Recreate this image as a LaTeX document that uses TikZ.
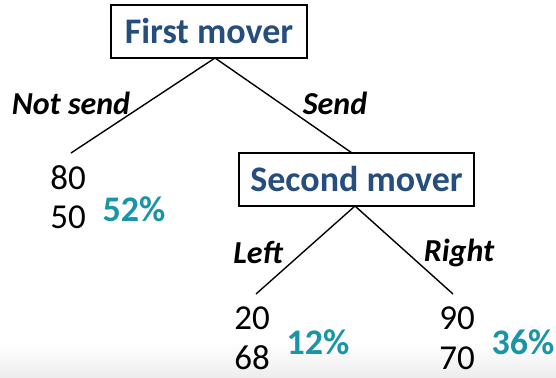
\documentclass[tikz,border=0pt]{standalone}
\usepackage{fontspec}
\setmainfont{Carlito}
\definecolor{titleblue}{HTML}{254E7E}
\definecolor{pct}{HTML}{1A95A8}
\begin{document}
\begin{tikzpicture}[x=1pt,y=-1pt,
  mover/.style={draw,line width=1.6pt,fill=white,text=titleblue,font=\fontsize{36}{40}\selectfont\bfseries,inner sep=0pt,minimum height=53pt},
  choice/.style={font=\fontsize{32}{34}\selectfont\bfseries\itshape},
  payoff/.style={font=\fontsize{35}{40}\selectfont,inner sep=0pt},
  share/.style={text=pct,font=\fontsize{36}{40}\selectfont\bfseries,inner sep=0pt},
  branch/.style={line width=1.4pt}]
\useasboundingbox (0,0) rectangle (556,377);
\shade[top color=white,bottom color=black!7] (0,343) rectangle (556,377);
\node[mover,minimum width=196pt] (fm) at (209,31.5) {First mover};
\node[mover,minimum width=235pt] (sm) at (356.5,179.5) {Second mover};
\coordinate (fmb) at (215,58);
\coordinate (l1) at (71,153);
\coordinate (smt) at (352,153);
\coordinate (smb) at (355,206);
\coordinate (l2) at (256,294);
\coordinate (l3) at (453,294);
\draw[branch] (fmb) -- (l1);
\draw[branch] (fmb) -- (smt);
\draw[branch] (smb) -- (l2);
\draw[branch] (smb) -- (l3);
\node[choice] (ns) at (71,103) {Not send};
\node[choice] (sd) at (335,103) {Send};
\node[choice] (lf) at (258,253) {Left};
\node[choice] (rt) at (459,253) {Right};
\node[payoff] (p1a) at (68,178) {80};
\node[payoff] (p1b) at (68,217) {50};
\node[share] (s1) at (134,209) {52\%};
\node[payoff] (p2a) at (252,318.5) {20};
\node[payoff] (p2b) at (252,358) {68};
\node[share] (s2) at (318,342) {12\%};
\node[payoff] (p3a) at (457,318.5) {90};
\node[payoff] (p3b) at (457,358) {70};
\node[share] (s3) at (523,342) {36\%};
\end{tikzpicture}
\end{document}
